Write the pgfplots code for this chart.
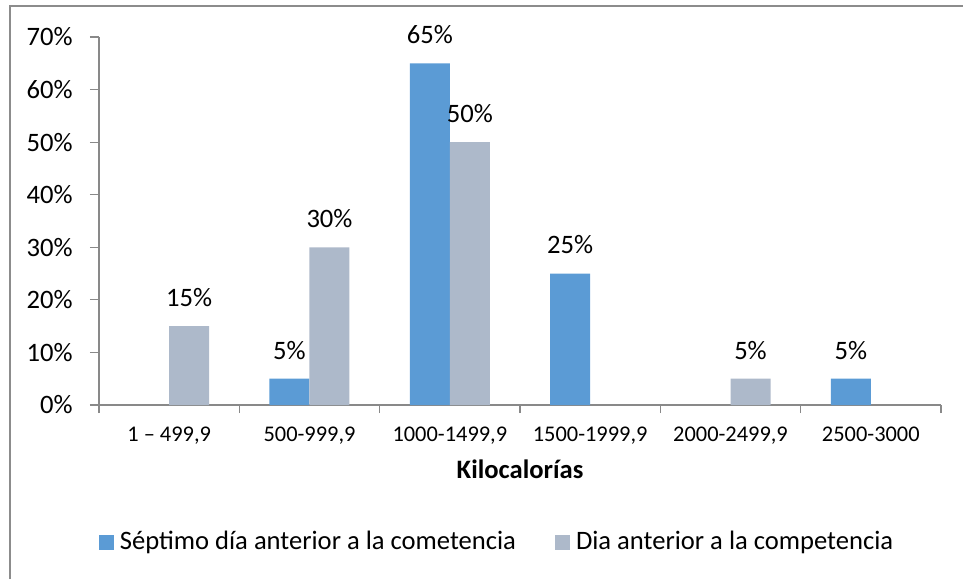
\documentclass[border=0pt]{standalone}
\usepackage{pgfplots}
\pgfplotsset{compat=1.18}
\usepackage{fontspec}
\setmainfont{Carlito}
\definecolor{serA}{HTML}{5B9BD5}
\definecolor{serB}{HTML}{ADB9CA}
\definecolor{axgray}{HTML}{898989}
\definecolor{framegray}{HTML}{8C8C8C}
\begin{document}
\begin{tikzpicture}
\path[use as bounding box] (-49.5pt,-87pt) rectangle (432pt,202.5pt);
\draw[framegray, line width=0.75pt] (-44.5pt,-87pt) -- (-44.5pt,199.5pt) -- (432pt,199.5pt);
\begin{axis}[
  scale only axis,
  width=421pt, height=184pt,
  at={(0pt,0pt)}, anchor=south west,
  xmin=-0.5, xmax=5.5, ymin=0, ymax=70,
  enlargelimits=false,
  axis lines*=left,
  axis line style={axgray, line width=0.6pt},
  every tick/.style={axgray, line width=0.6pt},
  tick align=outside,
  major tick length=4.5pt,
  minor tick length=4pt,
  xtick={0,1,2,3,4,5},
  xticklabels={{1 – 499,9}, {500-999,9}, {1000-1499,9}, {1500-1999,9}, {2000-2499,9}, {2500-3000}},
  minor xtick={-0.5,0.5,1.5,2.5,3.5,4.5,5.5},
  major x tick style={draw=none},
  ytick={0,10,20,30,40,50,60,70},
  /pgf/number format/assume math mode=true,
  yticklabel={\pgfmathprintnumber{\tick}\%},
  yticklabel style={font=\fontsize{13.3}{15}\selectfont, inner sep=0pt, xshift=-8.5pt},
  xticklabel style={font=\fontsize{11.2}{13}\selectfont, inner sep=0pt, yshift=-6.5pt},
  xlabel={Kilocalorías},
  xlabel style={font=\bfseries\fontsize{13.3}{15}\selectfont, at={(rel axis cs:0.5,0)}, anchor=base, yshift=-36.5pt},
  ybar=0pt, bar width=20pt,
  nodes near coords={\pgfmathprintnumber{\pgfplotspointmeta}\%},
  every node near coord/.append style={font=\fontsize{13.3}{15}\selectfont, black, anchor=south, inner sep=0pt, yshift=9.5pt},
  legend columns=2,
  legend style={draw=none, fill=none, at={(rel axis cs:0.4715,-0.3723)}, anchor=center,
    font=\fontsize{13.3}{15}\selectfont, inner sep=0pt,
    nodes={inner sep=0pt, anchor=west},
    /tikz/every odd column/.append style={column sep=3pt},
    /tikz/every even column/.append style={column sep=19.5pt}},
  legend image code/.code={\fill[#1] (0pt,-3.75pt) rectangle (7.5pt,3.75pt);},
]
\addplot[fill=serA, draw=none, bar shift=-10pt] coordinates {(1,5) (2,65) (3,25) (5,5)};
\addlegendentry{Séptimo día anterior a la cometencia}
\addplot[fill=serB, draw=none, bar shift=10pt] coordinates {(0,15) (1,30) (2,50) (4,5)};
\addlegendentry{Dia anterior a la competencia}
\end{axis}
\end{tikzpicture}
\end{document}
